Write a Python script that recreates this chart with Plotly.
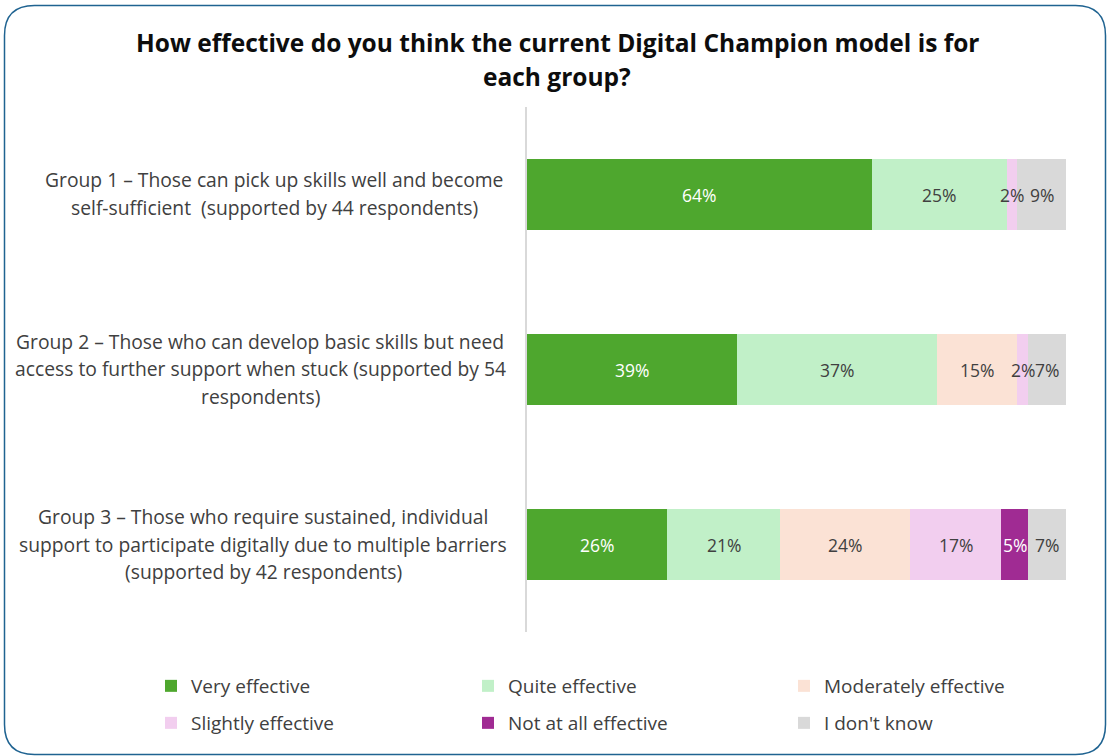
import plotly.graph_objects as go

# Survey categories (top to bottom); each entry is the list of label lines
group_keys = ["G1", "G2", "G3"]
group_lines = [
    ["Group 1 – Those can pick up skills well and become",
     "self-sufficient  (supported by 44 respondents)"],
    ["Group 2 – Those who can develop basic skills but need",
     "access to further support when stuck (supported by 54",
     "respondents)"],
    ["Group 3 – Those who require sustained, individual",
     "support to participate digitally due to multiple barriers",
     "(supported by 42 respondents)"],
]

# Share of responses per rating, in percent (order follows group_keys)
very_effective = [64, 39, 26]
quite_effective = [25, 37, 21]
moderately_effective = [0, 15, 24]
slightly_effective = [2, 2, 17]
not_at_all_effective = [0, 0, 5]
dont_know = [9, 7, 7]

series = [
    ("Very effective", very_effective, "#4ea72e", "white"),
    ("Quite effective", quite_effective, "#c1f0c8", "#404040"),
    ("Moderately effective", moderately_effective, "#fbe2d5", "#404040"),
    ("Slightly effective", slightly_effective, "#f2ceef", "#404040"),
    ("Not at all effective", not_at_all_effective, "#a02b93", "white"),
    ("I don't know", dont_know, "#d9d9d9", "#404040"),
]

FONT = "Open Sans"
TEXT = "#404040"
W, H = 1107, 756
L, R, T, B = 527, 41, 107, 124
pw, ph = W - L - R, H - T - B


def px(x):
    return (x - L) / pw


def py(y):
    return (H - B - y) / ph


fig = go.Figure()
legend_names = ["legend", "legend2", "legend3", "legend4", "legend5", "legend6"]
for (name, vals, color, tcolor), leg in zip(series, legend_names):
    fig.add_trace(go.Bar(
        name=name,
        y=group_keys,
        x=vals,
        orientation="h",
        marker=dict(color=color, line=dict(width=0)),
        width=0.405,
        legend=leg,
        hoverinfo="skip",
    ))

# Value labels centred on each segment, drawn above every bar
cum = [0.0] * len(group_keys)
for name, vals, color, tcolor in series:
    for i, v in enumerate(vals):
        if v:
            fig.add_annotation(
                x=cum[i] + v / 2, y=group_keys[i], xref="x", yref="y",
                text=f"{v}%", showarrow=False,
                font=dict(family=FONT, size=17.5, color=tcolor),
            )
            cum[i] += v

# Category labels: one annotation per line, centred left of the bars
label_centres = [274, 260, 263]
bar_centres = [193.5, 368.5, 544]
line_step = 27.5
for lines, cx, cy in zip(group_lines, label_centres, bar_centres):
    n = len(lines)
    for j, line in enumerate(lines):
        ly = cy + (j - (n - 1) / 2) * line_step
        fig.add_annotation(
            x=px(cx), y=py(ly), xref="paper", yref="paper",
            xanchor="center", yanchor="middle",
            text=line, showarrow=False,
            font=dict(family=FONT, size=19.3, color=TEXT),
        )

# Two-line bold heading
for line, ly in [("How effective do you think the current Digital Champion model is for", 42),
                 ("each group?", 76)]:
    fig.add_annotation(
        x=px(557), y=py(ly), xref="paper", yref="paper",
        xanchor="center", yanchor="middle",
        text=f"<b>{line}</b>", showarrow=False,
        font=dict(family=FONT, size=24.5, color="#0d0d0d"),
    )

# Rounded frame around the whole chart
x0, x1, y0, y1, r = 4.5, 1105.5, 5.5, 754.5, 30
path = (
    f"M {px(x0 + r)},{py(y0)} L {px(x1 - r)},{py(y0)} "
    f"Q {px(x1)},{py(y0)} {px(x1)},{py(y0 + r)} "
    f"L {px(x1)},{py(y1 - r)} Q {px(x1)},{py(y1)} {px(x1 - r)},{py(y1)} "
    f"L {px(x0 + r)},{py(y1)} Q {px(x0)},{py(y1)} {px(x0)},{py(y1 - r)} "
    f"L {px(x0)},{py(y0 + r)} Q {px(x0)},{py(y0)} {px(x0 + r)},{py(y0)} Z"
)
fig.add_shape(type="path", path=path, xref="paper", yref="paper",
              line=dict(color="#1f6391", width=1.5), layer="above")

# One single-entry legend per rating, laid out as a 3 x 2 grid
legend_cols = [151, 468, 784]
legend_rows = [686, 723]
legend_layout = {}
for k, leg in enumerate(legend_names):
    legend_layout[leg] = dict(
        orientation="h", xref="container", yref="container",
        x=legend_cols[k % 3] / W, xanchor="left",
        y=1 - legend_rows[k // 3] / H, yanchor="middle",
        font=dict(family=FONT, size=19, color=TEXT),
        bgcolor="rgba(0,0,0,0)",
    )

fig.update_layout(
    width=W, height=H,
    margin=dict(l=L, r=R, t=T, b=B),
    paper_bgcolor="white", plot_bgcolor="white",
    barmode="stack",
    bargap=0,
    xaxis=dict(range=[0, 100], visible=False, fixedrange=True),
    yaxis=dict(
        categoryorder="array", categoryarray=group_keys[::-1],
        showticklabels=False, ticks="", showgrid=False, zeroline=False,
        showline=True, linecolor="#d9d9d9", linewidth=2,
        range=[-0.5, 2.5], fixedrange=True,
    ),
    showlegend=True,
    **legend_layout,
)

fig.write_html("out.html")
